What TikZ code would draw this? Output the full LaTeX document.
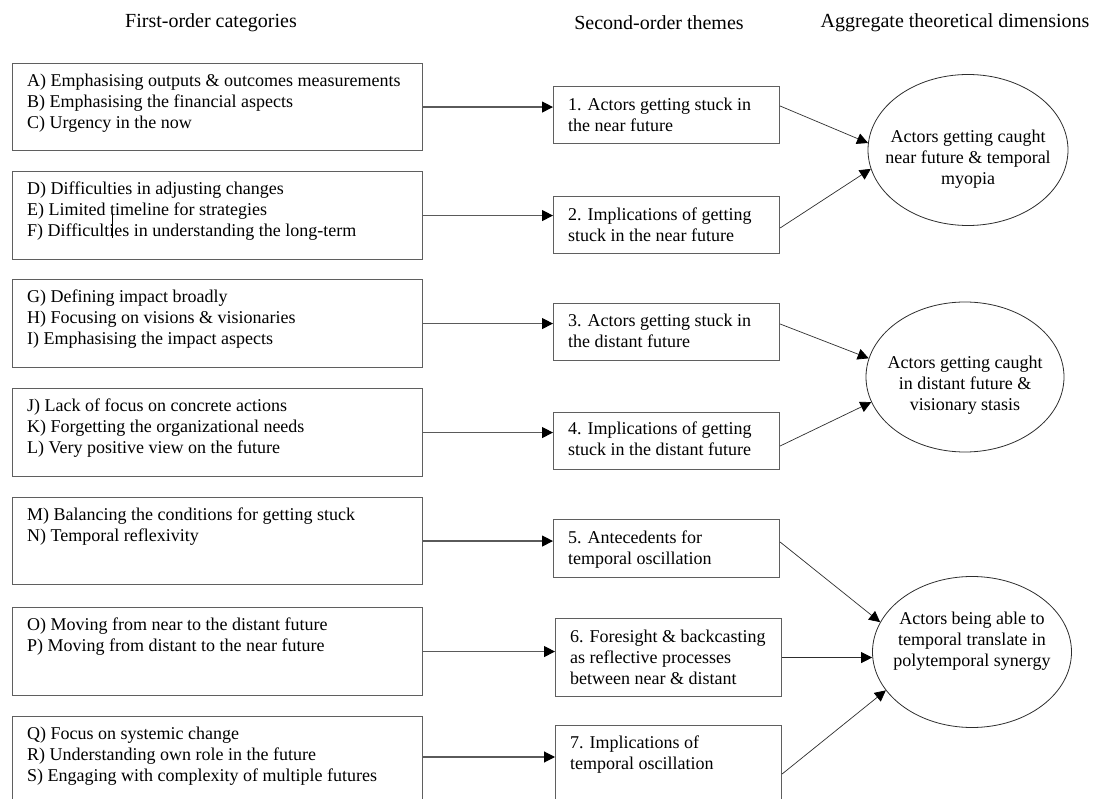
\documentclass[tikz,border=0pt]{standalone}
\usepackage{fontspec}
\setmainfont{Liberation Serif}
\usetikzlibrary{arrows.meta,shapes.geometric,calc}
\definecolor{boxgray}{RGB}{95,95,95}
\definecolor{arrgray}{RGB}{90,90,90}
\definecolor{linedark}{RGB}{45,45,45}
\begin{document}
\begin{tikzpicture}[x=1pt,y=-1pt,
  frame/.style={draw=boxgray, line width=1.1pt, inner sep=0pt, anchor=north west},
  txt/.style={font=\fontsize{18}{21}\selectfont, align=left, anchor=north west, inner sep=0pt},
  ctxt/.style={font=\fontsize{18}{21}\selectfont, align=center, inner sep=0pt},
  hdr/.style={font=\fontsize{20}{24}\selectfont, inner sep=0pt},
  oval/.style={ellipse, draw=linedark, line width=0.8pt, inner sep=0pt},
  harr/.style={draw=arrgray, line width=1.1pt, -{Triangle[length=11pt,width=11pt,color=black]}},
  darr/.style={draw=linedark, line width=0.7pt, -{Triangle[length=11pt,width=11pt,color=black]}}]
\useasboundingbox (0,0) rectangle (1096,799);
\clip (0,0) rectangle (1096,799);

% headers
\node[hdr] (h1) at (211,23) {First-order categories};
\node[hdr] (h2) at (659,23) {Second-order themes};
\node[hdr] (h3) at (955,23) {Aggregate theoretical dimensions};

% first-order boxes
\node[frame, minimum width=410pt, minimum height=87pt] (fa) at (12,63) {};
\node[txt] (fat) at (27,72) {\strut A) Emphasising outputs \& outcomes measurements\\\strut B) Emphasising the financial aspects\\\strut C) Urgency in the now};
\node[frame, minimum width=410pt, minimum height=88pt] (fd) at (12,171) {};
\node[txt] (fdt) at (27,180) {\strut D) Difficulties in adjusting changes\\\strut E) Limited timeline for strategies\\\strut F) Difficulties in understanding the long-term};
\node[frame, minimum width=410pt, minimum height=88pt] (fg) at (12,279) {};
\node[txt] (fgt) at (27,288) {\strut G) Defining impact broadly\\\strut H) Focusing on visions \& visionaries\\\strut I) Emphasising the impact aspects};
\node[frame, minimum width=410pt, minimum height=88pt] (fj) at (12,388) {};
\node[txt] (fjt) at (27,397) {\strut J) Lack of focus on concrete actions\\\strut K) Forgetting the organizational needs\\\strut L) Very positive view on the future};
\node[frame, minimum width=410pt, minimum height=87pt] (fm) at (12,497) {};
\node[txt] (fmt) at (27,506) {\strut M) Balancing the conditions for getting stuck\\\strut N) Temporal reflexivity};
\node[frame, minimum width=410pt, minimum height=88pt] (fo) at (12,607) {};
\node[txt] (fot) at (27,616) {\strut O) Moving from near to the distant future\\\strut P) Moving from distant to the near future};
\node[frame, minimum width=410pt, minimum height=95pt] (fq) at (12,716) {};
\node[txt] (fqt) at (27,725) {\strut Q) Focus on systemic change\\\strut R) Understanding own role in the future\\\strut S) Engaging with complexity of multiple futures};
\coordinate (fqout) at ($(fq.north east)+(0,41)$);

% caret mark
\draw[line width=0.8pt, black] (112,213) -- (112,238);

% second-order boxes
\node[frame, minimum width=226pt, minimum height=57pt] (s1) at (553,86) {};
\node[txt] (s1t) at (568,96) {\strut 1. Actors getting stuck in\\\strut the near future};
\node[frame, minimum width=226pt, minimum height=57pt] (s2) at (553,196) {};
\node[txt] (s2t) at (568,206) {\strut 2. Implications of getting\\\strut stuck in the near future};
\node[frame, minimum width=226pt, minimum height=57pt] (s3) at (553,303) {};
\node[txt] (s3t) at (568,312) {\strut 3. Actors getting stuck in\\\strut the distant future};
\node[frame, minimum width=226pt, minimum height=57pt] (s4) at (553,412) {};
\node[txt] (s4t) at (568,420) {\strut 4. Implications of getting\\\strut stuck in the distant future};
\node[frame, minimum width=226pt, minimum height=58pt] (s5) at (553,519) {};
\node[txt] (s5t) at (568,529) {\strut 5. Antecedents for\\\strut temporal oscillation};
\node[frame, minimum width=226pt, minimum height=78pt] (s6) at (555,618) {};
\node[txt] (s6t) at (570,628) {\strut 6. Foresight \& backcasting\\\strut as reflective processes\\\strut between near \& distant};
\node[frame, minimum width=226pt, minimum height=90pt] (s7) at (555,725) {};
\node[txt] (s7t) at (570,734) {\strut 7. Implications of\\\strut temporal oscillation};

% aggregate dimensions
\node[oval, minimum width=200pt, minimum height=151pt] (e1) at (968,150) {};
\node[ctxt] (e1t) at (968,159) {\strut Actors getting caught\\\strut near future \& temporal\\\strut myopia};
\node[oval, minimum width=198pt, minimum height=150pt] (e2) at (965,377) {};
\node[ctxt] (e2t) at (965,385) {\strut Actors getting caught\\\strut in distant future \&\\\strut visionary stasis};
\node[oval, minimum width=199pt, minimum height=151pt] (e3) at (972,652) {};
\node[ctxt] (e3t) at (972,641) {\strut Actors being able to\\\strut temporal translate in\\\strut polytemporal synergy};

% first -> second
\draw[harr] (fa.east) -- (fa.east -| s1.west);
\draw[harr] (fd.east) -- (fd.east -| s2.west);
\draw[harr] (fg.east) -- (fg.east -| s3.west);
\draw[harr] (fj.east) -- (fj.east -| s4.west);
\draw[harr] (fm.east) -- (fm.east -| s5.west);
\draw[harr] (fo.east) -- (fo.east -| s6.west);
\draw[harr] (fqout) -- (fqout -| s7.west);

% second -> aggregate
\draw[darr] ($(s1.north east)+(0,20)$) -- (e1.176);
\draw[darr] ($(s2.north east)+(0,32)$) -- (e1.191);
\draw[darr] ($(s3.north east)+(0,21)$) -- (e2.169);
\draw[darr] ($(s4.north east)+(0,34)$) -- (e2.195);
\draw[darr] ($(s5.north east)+(0,23)$) -- (e3.162);
\draw[darr] (s6.east) -- (s6.east -| e3.west);
\draw[darr] ($(s7.north east)+(0,49)$) -- (e3.204);
\end{tikzpicture}
\end{document}
